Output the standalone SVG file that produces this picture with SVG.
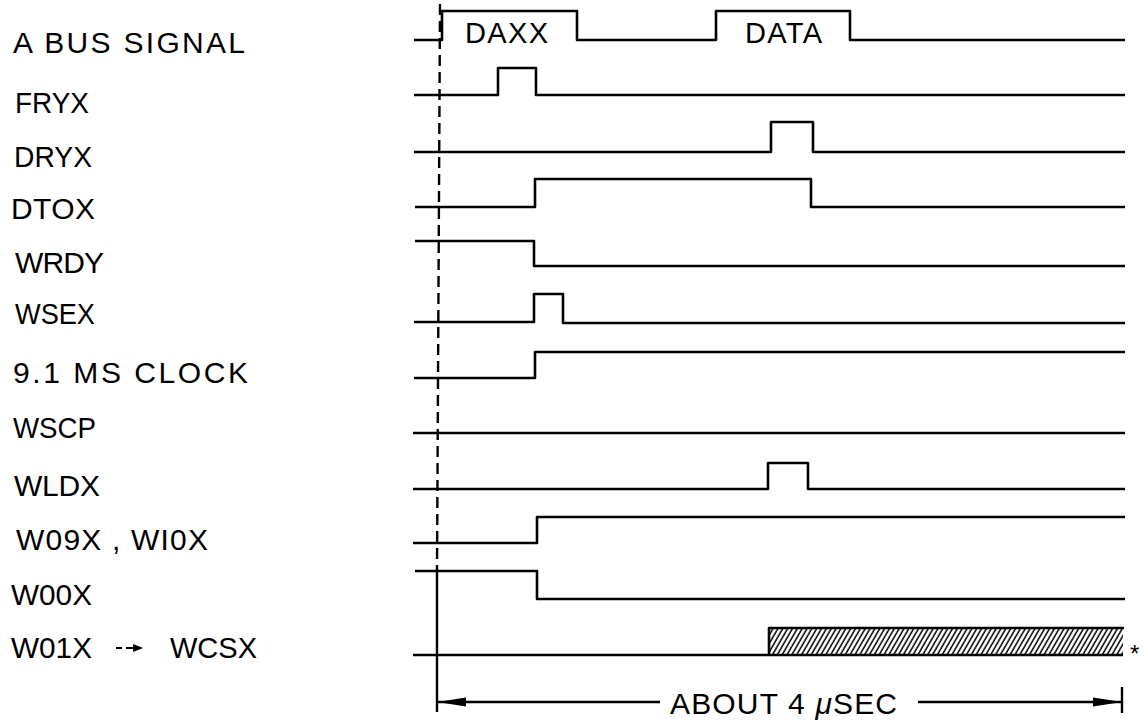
<svg xmlns="http://www.w3.org/2000/svg" width="1146" height="722" viewBox="0 0 1146 722">
<style>
.sig{fill:none;stroke:#000;stroke-width:2.6;stroke-linejoin:round}
.lbl{font-family:"Liberation Sans",Arial,sans-serif;font-size:30px;fill:#000}
.in{font-family:"Liberation Sans",Arial,sans-serif;font-size:29px;fill:#000}
.conn{fill:none;stroke:#000;stroke-width:2.4}
</style>
<defs>
<pattern id="hatch" patternUnits="userSpaceOnUse" width="4.2" height="10" patternTransform="rotate(30)">
<line x1="1" y1="0" x2="1" y2="10" stroke="#000" stroke-width="1.5"/>
</pattern>
</defs>
<rect width="1146" height="722" fill="#fff"/>
<g id="abus">
<text class="lbl" x="13" y="53" textLength="232" lengthAdjust="spacing">A BUS SIGNAL</text>
<path class="sig" d="M414,40 H442 V11 H577 V40 H716 V11 H850 V40 H1125"/>
<text class="in" x="465" y="43" textLength="83" lengthAdjust="spacing">DAXX</text>
<text class="in" x="745" y="43" textLength="77" lengthAdjust="spacing">DATA</text>
</g>
<g id="fryx">
<text class="lbl" x="15" y="113" textLength="74" lengthAdjust="spacingAndGlyphs">FRYX</text>
<path class="sig" d="M414,95 H498 V68 H536 V95 H1125"/>
</g>
<g id="dryx">
<text class="lbl" x="14" y="167" textLength="78" lengthAdjust="spacingAndGlyphs">DRYX</text>
<path class="sig" d="M414,152 H771 V122 H813 V152 H1125"/>
</g>
<g id="dtox">
<text class="lbl" x="11" y="219" textLength="84" lengthAdjust="spacing">DTOX</text>
<path class="sig" d="M415,207 H535 V179 H811 V207 H1125"/>
</g>
<g id="wrdy">
<text class="lbl" x="15" y="273" textLength="89" lengthAdjust="spacing">WRDY</text>
<path class="sig" d="M415,241 H534 V266 H1125"/>
</g>
<g id="wsex">
<text class="lbl" x="15" y="324" textLength="80" lengthAdjust="spacingAndGlyphs">WSEX</text>
<path class="sig" d="M414,322 H534 V294 H563 V323 H1125"/>
</g>
<g id="clock">
<text class="lbl" x="13" y="383" textLength="235" lengthAdjust="spacing">9.1 MS CLOCK</text>
<path class="sig" d="M414,378 H535 V352 H1125"/>
</g>
<g id="wscp">
<text class="lbl" x="13" y="438" textLength="83" lengthAdjust="spacingAndGlyphs">WSCP</text>
<path class="sig" d="M413,433 H1125"/>
</g>
<g id="wldx">
<text class="lbl" x="14" y="496" textLength="86" lengthAdjust="spacing">WLDX</text>
<path class="sig" d="M413,489 H768 V463 H808 V489 H1125"/>
</g>
<g id="w09x">
<text class="lbl" x="16" y="550" textLength="192" lengthAdjust="spacing">W09X , WI0X</text>
<path class="sig" d="M413,543 H537 V517 H1125"/>
</g>
<g id="w00x">
<text class="lbl" x="11" y="605" textLength="81" lengthAdjust="spacingAndGlyphs">W00X</text>
<path class="sig" d="M415,571 H537 V599 H1125"/>
</g>
<g id="w01x">
<text class="lbl" x="11" y="658"><tspan textLength="81" lengthAdjust="spacingAndGlyphs">W01X</tspan><tspan x="170" textLength="87" lengthAdjust="spacingAndGlyphs">WCSX</tspan></text>
<path d="M116,648 H122 M126,648 H136" stroke="#000" stroke-width="2.2"/>
<polygon points="143,648 133,644 133,652" fill="#000"/>
<path class="sig" d="M413,655 H1123"/>
<rect x="769" y="628" width="354" height="27" fill="url(#hatch)"/>
<path class="sig" d="M769,655 V628 H1124"/>
<text x="1130" y="662" font-family="Liberation Sans, Arial, sans-serif" font-size="24">*</text>
</g>
<g id="connectors">
<line class="conn" x1="440" y1="4" x2="437" y2="571" stroke-dasharray="11 6"/>
<line class="conn" x1="437" y1="571" x2="437" y2="712"/>
<line class="conn" x1="437" y1="702" x2="660" y2="702"/>
<polygon points="437,702 466,697.5 466,706.5" fill="#000"/>
<line class="conn" x1="918" y1="702" x2="1122" y2="702"/>
<polygon points="1122,702 1093,697.5 1093,706.5" fill="#000"/>
<line class="conn" x1="1122" y1="687" x2="1122" y2="713"/>
<text class="lbl" x="670" y="714" textLength="227" lengthAdjust="spacing">ABOUT 4  <tspan font-style="italic">μ</tspan>SEC</text>
</g>
</svg>
